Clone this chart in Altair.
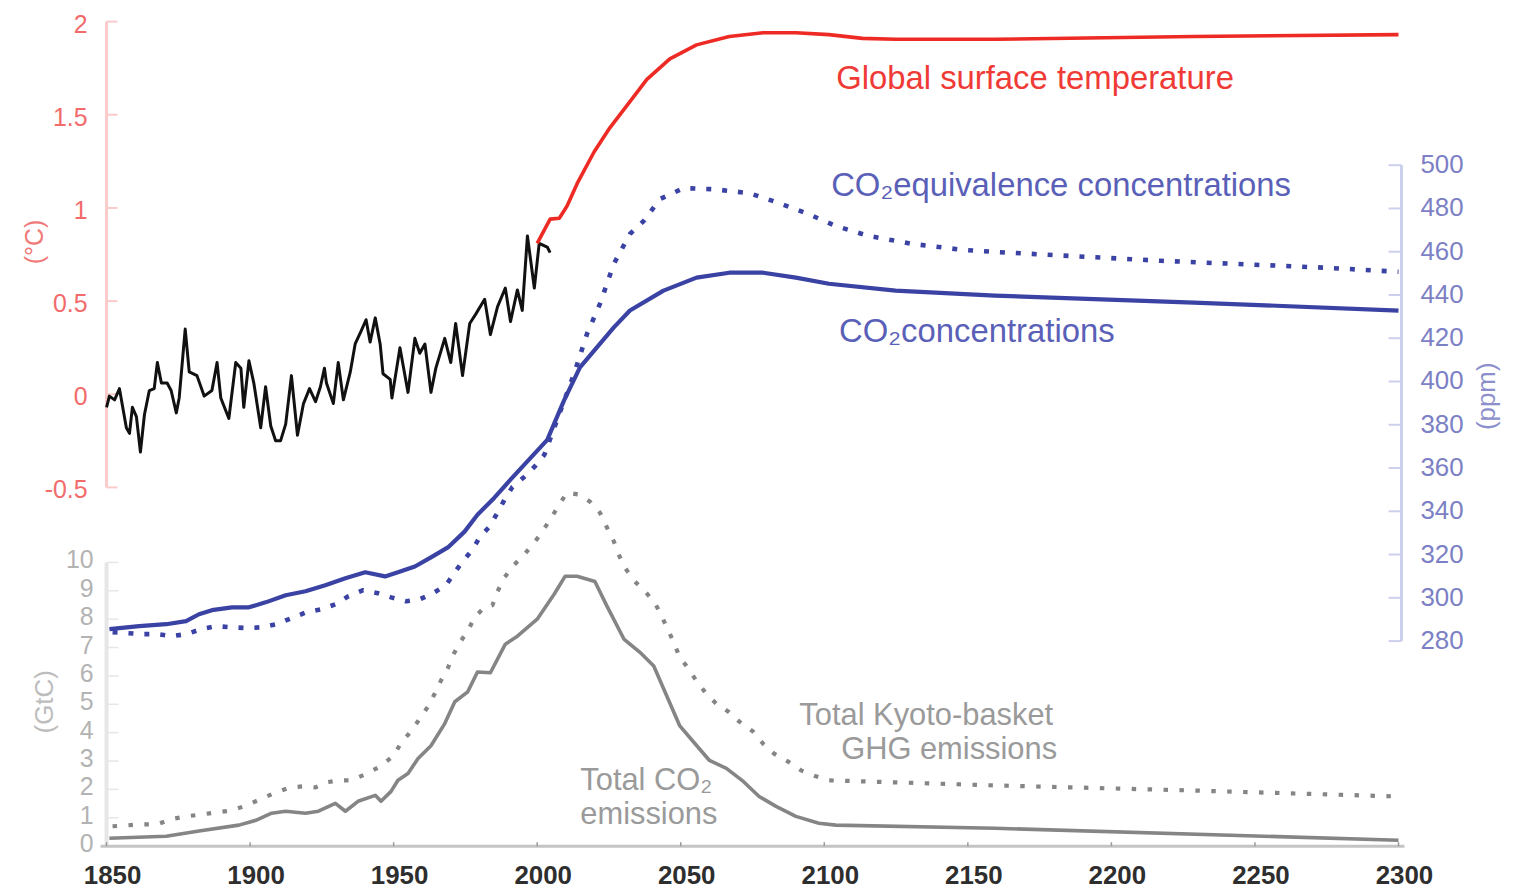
import altair as alt
import pandas as pd

# ---------------- data ----------------
temp_obs_year = [1850.0, 1851.0, 1852.8, 1854.5, 1856.9, 1858.0, 1859.0, 1860.4, 1861.8, 1863.2,
                 1864.9, 1866.6, 1867.7, 1869.1, 1871.1, 1872.5, 1874.3, 1875.3, 1877.4, 1878.8,
                 1881.5, 1884.0, 1886.7, 1888.5, 1889.8, 1892.6, 1895.0, 1896.8, 1897.8, 1899.6,
                 1901.3, 1903.7, 1905.4, 1907.2, 1908.9, 1910.6, 1912.4, 1914.4, 1916.5, 1918.6,
                 1920.7, 1922.8, 1924.5, 1925.9, 1926.6, 1929.0, 1930.7, 1932.5, 1934.9, 1936.6,
                 1938.7, 1940.4, 1941.8, 1943.6, 1945.3, 1946.3, 1948.8, 1949.4, 1952.2, 1955.0,
                 1957.4, 1959.1, 1960.9, 1963.0, 1964.7, 1967.8, 1969.9, 1971.6, 1974.0, 1976.5,
                 1978.6, 1981.7, 1983.7, 1986.2, 1988.9, 1990.7, 1993.1, 1994.8, 1996.6, 1999.0,
                 2000.7, 2003.5, 2004.5]
temp_obs_value = [-0.07, -0.01, -0.03, 0.03, -0.18, -0.21, -0.07, -0.12, -0.31, -0.11,
                  0.02, 0.03, 0.17, 0.06, 0.06, 0.02, -0.10, -0.02, 0.35, 0.12,
                  0.10, -0.01, 0.02, 0.17, -0.02, -0.13, 0.17, 0.14, -0.07, 0.18,
                  0.06, -0.18, 0.04, -0.17, -0.25, -0.25, -0.16, 0.10, -0.22, -0.05,
                  0.03, -0.04, 0.04, 0.14, 0.06, -0.05, 0.17, -0.03, 0.12, 0.27,
                  0.34, 0.40, 0.28, 0.41, 0.27, 0.11, 0.08, -0.02, 0.25, 0.01,
                  0.30, 0.22, 0.27, 0.01, 0.14, 0.30, 0.17, 0.38, 0.10, 0.38,
                  0.43, 0.51, 0.32, 0.47, 0.57, 0.39, 0.56, 0.45, 0.85, 0.57,
                  0.81, 0.79, 0.76]

temp_proj_year = [2000, 2004.5, 2007.7, 2010.4, 2013.9, 2019.8, 2025.3, 2032.3, 2038.2, 2046.2,
                  2055.5, 2066.9, 2078.7, 2090.1, 2101.6, 2113.3, 2124.8, 2159.4, 2228.7, 2300]
temp_proj_value = [0.81, 0.94, 0.945, 1.01, 1.13, 1.30, 1.43, 1.57, 1.69, 1.80,
                   1.875, 1.92, 1.94, 1.94, 1.93, 1.91, 1.905, 1.905, 1.92, 1.93]

co2_year = [1851.0, 1861.4, 1870.8, 1877.7, 1882.2, 1886.7, 1893.7, 1899.6, 1905.4, 1912.4,
            1919.3, 1926.2, 1933.2, 1940.1, 1947.0, 1951.5, 1957.4, 1963.0, 1968.9, 1974.7,
            1979.2, 1985.1, 1990.7, 2003.5, 2009.4, 2014.9, 2020.8, 2026.7, 2032.3, 2044.0,
            2055.5, 2066.9, 2078.7, 2090.1, 2101.6, 2124.8, 2159.4, 2228.7, 2300]
co2_value = [285.5, 286.9, 287.8, 289.2, 292.4, 294.3, 295.6, 295.6, 297.9, 301.2,
             303.0, 305.8, 309.0, 311.8, 309.9, 311.8, 314.5, 318.7, 323.3, 330.6,
             338.4, 346.3, 354.6, 373.0, 391.4, 406.5, 415.8, 425.0, 432.8, 442.0,
             448.0, 450.3, 450.3, 448.0, 445.2, 442.0, 439.7, 436.5, 432.8]

co2eq_year = [1852.1, 1862.5, 1867.7, 1872.9, 1877.7, 1882.9, 1888.1, 1893.7, 1898.9, 1904.1,
              1909.3, 1914.4, 1919.6, 1924.8, 1929.7, 1934.2, 1939.4, 1944.6, 1949.1, 1954.3,
              1959.1, 1963.7, 1968.2, 1971.3, 1974.0, 1977.5, 1979.9, 1983.4, 1986.2, 1988.6,
              1991.4, 1995.5, 1999.0, 2002.5, 2012.9, 2017.4, 2021.9, 2026.7, 2032.3, 2037.1,
              2042.7, 2051.0, 2061.4, 2073.8, 2084.2, 2093.6, 2104.0, 2115.4, 2130.7, 2148.0,
              2159.4, 2217.3, 2274.8, 2300]
co2eq_value = [284.1, 283.2, 283.2, 282.3, 283.2, 285.5, 286.9, 286.4, 286.0, 286.4,
               287.8, 290.6, 293.3, 294.7, 297.0, 300.7, 303.5, 302.1, 300.2, 298.4,
               299.3, 302.1, 305.8, 311.8, 316.8, 322.3, 327.9, 332.9, 339.4, 345.3,
               351.3, 355.9, 360.5, 366.1, 403.8, 422.2, 436.0, 454.4, 468.2, 474.2,
               484.3, 489.4, 488.9, 487.1, 482.5, 477.9, 471.9, 467.3, 463.6, 460.9,
               459.9, 455.8, 452.6, 450.7]

co2_emis_year = [1851.0, 1870.8, 1882.2, 1896.1, 1902.0, 1907.5, 1912.4, 1919.3, 1923.8, 1929.7,
                 1933.2, 1937.6, 1943.6, 1945.6, 1949.1, 1951.5, 1955.0, 1958.5, 1963.0, 1967.8,
                 1971.3, 1975.8, 1979.2, 1983.7, 1988.9, 1993.1, 2000.0, 2005.9, 2009.7, 2013.9,
                 2020.1, 2024.3, 2030.2, 2035.7, 2040.6, 2045.1, 2049.6, 2054.4, 2060.0, 2065.9,
                 2071.8, 2077.3, 2083.2, 2090.1, 2098.1, 2104.0, 2159.4, 2300]
co2_emis_value = [0.28, 0.35, 0.53, 0.74, 0.91, 1.16, 1.23, 1.16, 1.23, 1.51,
                  1.23, 1.58, 1.79, 1.58, 1.93, 2.32, 2.56, 3.09, 3.54, 4.32,
                  5.09, 5.44, 6.14, 6.11, 7.12, 7.40, 8.00, 8.88, 9.51, 9.51,
                  9.33, 8.46, 7.30, 6.84, 6.35, 5.30, 4.25, 3.68, 3.02, 2.74,
                  2.28, 1.75, 1.40, 1.05, 0.81, 0.74, 0.63, 0.21]

kyoto_year = [1852.1, 1862.5, 1867.7, 1872.5, 1877.7, 1883.3, 1888.5, 1893.7, 1898.9, 1904.1,
              1908.9, 1914.1, 1918.6, 1922.8, 1926.6, 1931.4, 1935.2, 1940.1, 1945.3, 1950.1,
              1952.6, 1956.0, 1959.1, 1961.9, 1964.3, 1966.4, 1968.9, 1970.9, 1973.4, 1975.8,
              1978.2, 1981.7, 1984.4, 1986.2, 1988.6, 1991.7, 1995.5, 1999.0, 2001.8, 2004.5,
              2007.7, 2010.4, 2014.6, 2018.4, 2021.9, 2024.3, 2026.7, 2028.4, 2030.5, 2034.0,
              2037.5, 2040.9, 2043.3, 2045.8, 2047.5, 2049.6, 2052.7, 2055.5, 2058.9, 2062.4,
              2066.6, 2070.4, 2075.2, 2078.7, 2082.5, 2087.4, 2091.9, 2097.1, 2101.6, 2159.4,
              2228.7, 2300]
kyoto_value = [0.70, 0.77, 0.77, 0.95, 1.05, 1.12, 1.19, 1.26, 1.44, 1.68,
               1.89, 2.07, 2.11, 2.07, 2.25, 2.32, 2.32, 2.53, 2.81, 3.19,
               3.65, 4.04, 4.49, 4.91, 5.37, 5.82, 6.28, 6.77, 7.23, 7.58,
               8.07, 8.42, 8.49, 8.98, 9.47, 9.89, 10.28, 10.70, 11.09, 11.51,
               12.04, 12.46, 12.39, 12.14, 11.75, 11.23, 10.74, 10.28, 9.82, 9.33,
               8.98, 8.60, 8.11, 7.58, 7.19, 6.67, 6.25, 5.82, 5.37, 5.02,
               4.74, 4.39, 4.04, 3.61, 3.26, 2.98, 2.67, 2.46, 2.32, 2.14,
               1.96, 1.75]

x_ticks = [1850, 1900, 1950, 2000, 2050, 2100, 2150, 2200, 2250, 2300]
temp_ticks = [-0.5, 0, 0.5, 1, 1.5, 2]
ppm_ticks = [280, 300, 320, 340, 360, 380, 400, 420, 440, 460, 480, 500]
gtc_ticks = [0, 1, 2, 3, 4, 5, 6, 7, 8, 9, 10]

# ---------------- layout / styles ----------------
FONT = "Liberation Sans"
W, H = 1298, 838

x_scale = alt.Scale(domain=[1850, 2300], nice=False, zero=False)
temp_scale = alt.Scale(domain=[-2.4252, 2.0513], nice=False, zero=False)
ppm_scale = alt.Scale(domain=[185.2, 570.8], nice=False, zero=False)
gtc_scale = alt.Scale(domain=[0, 29.40], nice=False, zero=False)

X = alt.X("year:Q", scale=x_scale, axis=None)


def series(years, values, yscale, **mark):
    df = pd.DataFrame({"year": years, "value": values})
    return alt.Chart(df).mark_line(strokeJoin="round", **mark).encode(
        x=X, y=alt.Y("value:Q", scale=yscale, axis=None))


lines = [
    series(co2_emis_year, co2_emis_value, gtc_scale, color="#858585", strokeWidth=3.6),
    series(kyoto_year, kyoto_value, gtc_scale, color="#858585", strokeWidth=4.2,
           strokeDash=[4.5, 11.5]),
    series(co2_year, co2_value, ppm_scale, color="#3a42a3", strokeWidth=4.2),
    series(co2eq_year, co2eq_value, ppm_scale, color="#3a42a3", strokeWidth=4.6,
           strokeDash=[5, 11]),
    series(temp_obs_year, temp_obs_value, temp_scale, color="#111111", strokeWidth=3),
    series(temp_proj_year, temp_proj_value, temp_scale, color="#ee2a24", strokeWidth=3.6),
]


# ---------------- hand-built axes (restricted extents, inward ticks) ----------------
def y_axis(ticks, yscale, x_line, tick_from, tick_to, label_x, align, color_line, color_lab,
           size, line_w, tick_w, dy=0):
    tdf = pd.DataFrame({"t": ticks, "lab": [f"{v:g}" for v in ticks]})
    rng = pd.DataFrame({"lo": [ticks[0]], "hi": [ticks[-1]]})
    line = alt.Chart(rng).mark_rule(color=color_line, strokeWidth=line_w).encode(
        x=alt.value(x_line), y=alt.Y("lo:Q", scale=yscale, axis=None), y2="hi:Q")
    tk = alt.Chart(tdf).mark_rule(color=color_line, strokeWidth=tick_w).encode(
        x=alt.value(tick_from), x2=alt.value(tick_to),
        y=alt.Y("t:Q", scale=yscale, axis=None))
    lb = alt.Chart(tdf).mark_text(align=align, baseline="middle", font=FONT, fontSize=size,
                                  color=color_lab, dy=dy).encode(
        x=alt.value(label_x), y=alt.Y("t:Q", scale=yscale, axis=None), text="lab:N")
    return [line, tk, lb]


axes = []
axes += y_axis(temp_ticks, temp_scale, 0, 0, 11, -19, "right", "#fbcaca", "#f26b6b", 25, 3, 2,
               dy=3)
axes += y_axis(gtc_ticks, gtc_scale, 0, 0, 12, -13, "right", "#e6e6e6", "#b3b3b3", 25, 4, 1.5,
               dy=-2)
axes += y_axis(ppm_ticks, ppm_scale, W + 3, W - 10, W + 3, W + 22, "left", "#cdd0ec",
               "#7c80c4", 26, 3, 2)

xt = pd.DataFrame({"year": x_ticks, "lab": [str(v) for v in x_ticks]})
x_line = alt.Chart(pd.DataFrame({"a": [0]})).mark_rule(color="#c4c4c4", strokeWidth=3).encode(
    x=alt.value(-6), x2=alt.value(W + 6), y=alt.value(H))
x_tk = alt.Chart(xt).mark_rule(color="#9a9a9a", strokeWidth=1.5).encode(
    x=X, y=alt.value(H - 4), y2=alt.value(H))
x_lb = alt.Chart(xt).mark_text(align="center", baseline="middle", font=FONT, fontSize=26,
                               fontWeight="bold", color="#2e2e2e", dx=6).encode(
    x=X, y=alt.value(H + 30), text="lab:N")
axes += [x_line, x_tk, x_lb]

# ---------------- text annotations ----------------
one = pd.DataFrame({"a": [0]})


def label(txt, x, y, color, size, align="left", angle=0, lh=34):
    return alt.Chart(one).mark_text(text=txt, align=align, baseline="middle", font=FONT,
                                    fontSize=size, color=color, angle=angle,
                                    lineHeight=lh).encode(
        x=alt.value(x), y=alt.value(y))


texts = [
    label("Global surface temperature", 733, 67, "#f03a36", 33),
    label("CO₂equivalence concentrations", 728, 175, "#5a5fb8", 33),
    label("CO₂concentrations", 736, 322, "#5a5fb8", 33),
    label("Total Kyoto-basket", 951, 707, "#9a9a9a", 31, align="right"),
    label("GHG emissions", 955, 741, "#9a9a9a", 31, align="right"),
    label("Total CO₂", 476, 773, "#9a9a9a", 31),
    label("emissions", 476, 807, "#9a9a9a", 31),
    label("(°C)", -72, 231, "#f07a7a", 25, align="center", angle=270),
    label("(GtC)", -62, 693, "#bdbdbd", 26, align="center", angle=270),
    label("(ppm)", W + 89, 386, "#8c8fcb", 26, align="center", angle=270),
]

chart = alt.layer(*axes, *lines, *texts).resolve_scale(
    y="independent"
).properties(
    width=W, height=H,
    autosize=alt.AutoSizeParams(type="none"),
    padding={"left": 99, "top": 2, "right": 107, "bottom": 40},
    background="white",
).configure_view(stroke=None)

chart.save("out.html", embed_options={"renderer": "svg", "actions": False})
